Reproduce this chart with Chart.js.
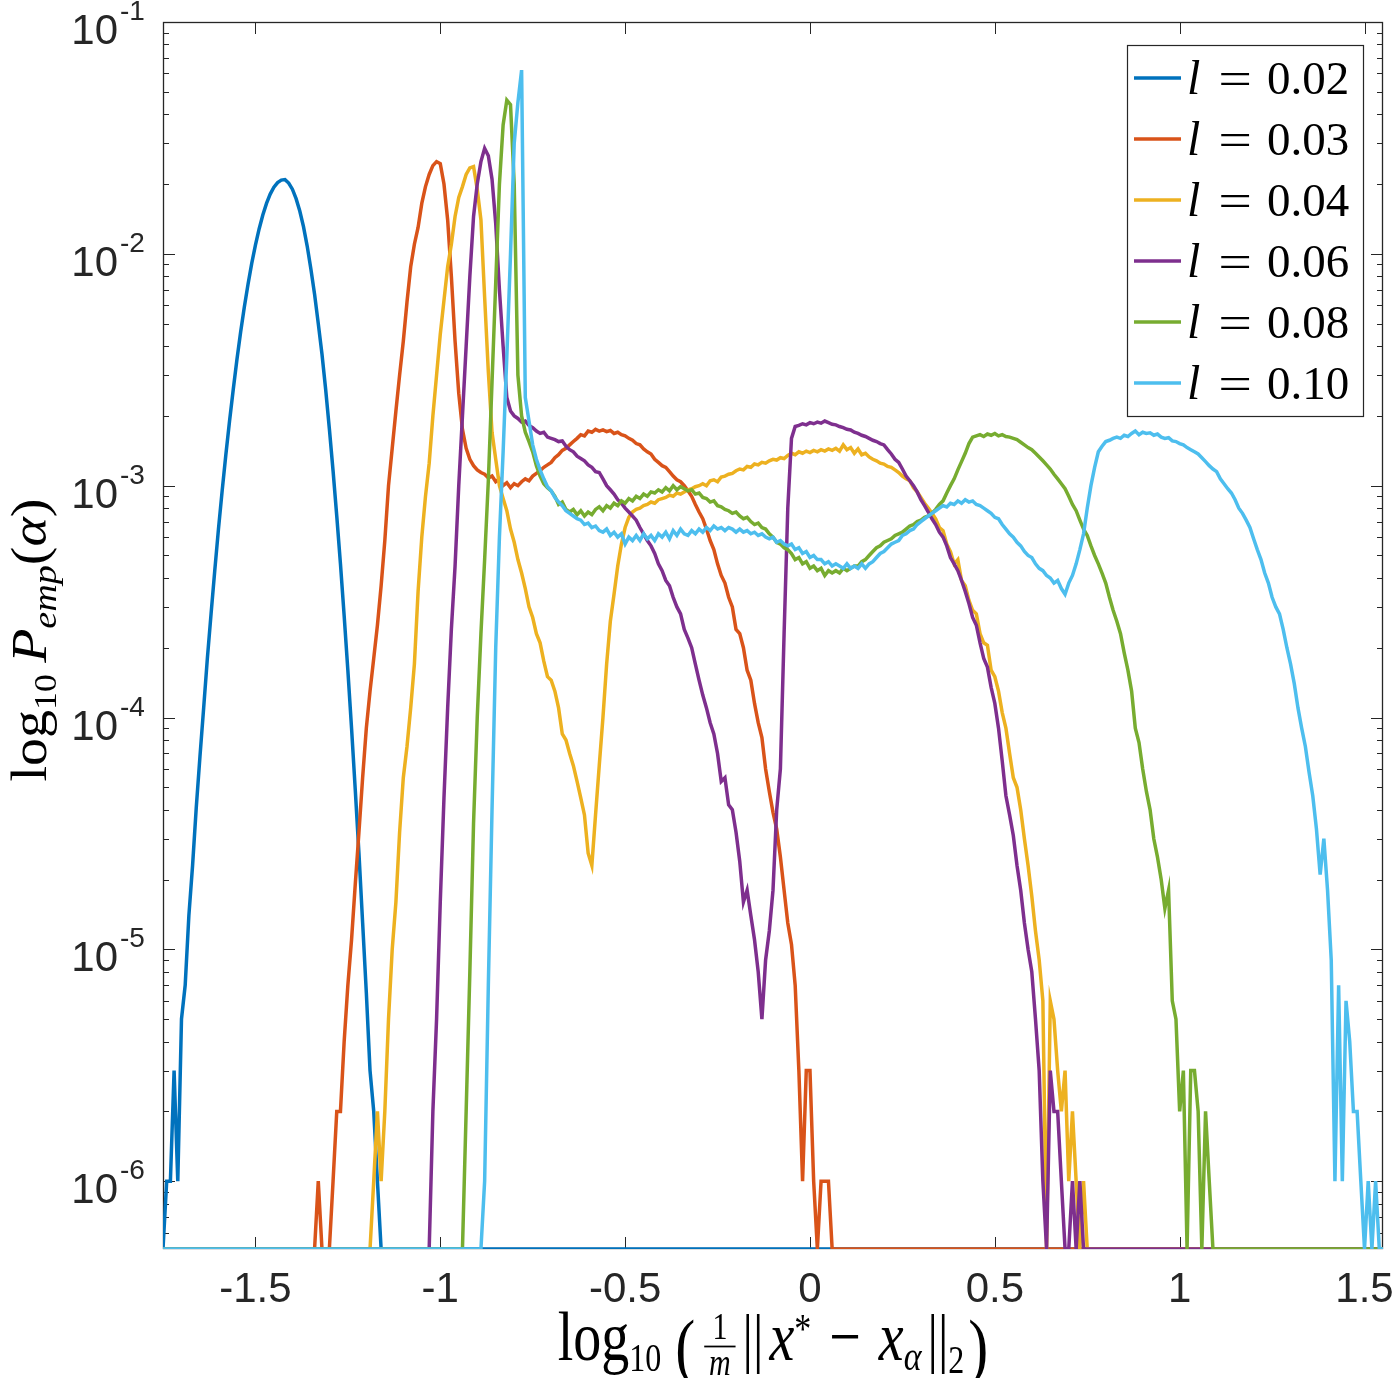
<!DOCTYPE html>
<html><head><meta charset="utf-8">
<script src="https://cdn.jsdelivr.net/npm/chart.js@4.4.1/dist/chart.umd.min.js"></script>
<style>html,body{margin:0;padding:0;background:#fff;}#wrap{width:1398px;height:1378px;}</style>
</head><body><div id="wrap"><canvas id="c" width="1398" height="1378"></canvas></div>
<script>
// ---- axis / bins ----
const BIN_START = -1.75, BIN_STEP = 0.01, BIN_COUNT = 331;
const xMin = -1.75, xMax = 1.55, yMin = 5.1e-7, yMax = 0.1;
const xTickValues = [-1.5, -1, -0.5, 0, 0.5, 1, 1.5];
const xTickLabels = ['-1.5', '-1', '-0.5', '0', '0.5', '1', '1.5'];
const yTickExponents = [-1, -2, -3, -4, -5, -6];
const seriesNames = ['0.02', '0.03', '0.04', '0.06', '0.08', '0.10'];
const seriesColors = ['#0072BD', '#D95319', '#EDB120', '#7E2F8E', '#77AC30', '#4DBEEE'];

// ---- series: first bin centre + empirical probabilities per bin (0 = empty bin) ----
const start002 = -1.75;
const p002 = [
 0, 1e-6, 1e-6, 3e-6, 1e-6, 5e-6, 7e-6, 1.4e-5, 2.3e-5, 4.1e-5,
 6.8e-5, 1.1e-4, 1.8e-4, 2.8e-4, 4.3e-4, 6.5e-4, 9.5e-4, 1.36e-3, 1.9e-3, 2.6e-3,
 3.5e-3, 4.6e-3, 5.9e-3, 7.4e-3, 9.1e-3, 1.09e-2, 1.28e-2, 1.47e-2, 1.65e-2, 1.81e-2,
 1.94e-2, 2.03e-2, 2.08e-2, 2.09e-2, 2.02e-2, 1.9e-2, 1.73e-2, 1.53e-2, 1.31e-2, 1.08e-2,
 8.6e-3, 6.7e-3, 5.0e-3, 3.7e-3, 2.6e-3, 1.76e-3, 1.16e-3, 7.4e-4, 4.6e-4, 2.75e-4,
 1.6e-4, 9e-5, 4.9e-5, 2.6e-5, 1.3e-5, 6.5e-6, 3e-6, 2e-6, 1e-6, 0
];
const start003 = -1.34;
const p003 = [
 0, 1e-6, 0, 0, 0, 1e-6, 2e-6, 2e-6, 4e-6, 7e-6,
 1.1e-5, 1.9e-5, 3.2e-5, 5.5e-5, 9e-5, 1.3e-4, 1.8e-4, 2.5e-4, 3.7e-4, 5.8e-4,
 1.0e-3, 1.45e-3, 2.1e-3, 3.0e-3, 4.2e-3, 6.2e-3, 8.8e-3, 1.1e-2, 1.3e-2, 1.65e-2,
 1.95e-2, 2.2e-2, 2.4e-2, 2.5e-2, 2.45e-2, 2.0e-2, 1.4e-2, 8.0e-3, 4.2e-3, 2.5e-3,
 1.75e-3, 1.45e-3, 1.3e-3, 1.22e-3, 1.17e-3, 1.14e-3, 1.12e-3, 1.08e-3, 1.1e-3, 1.04e-3,
 1.07e-3, 1.0e-3, 1.03e-3, 9.8e-4, 1.02e-3, 1.0e-3, 1.04e-3, 1.07e-3, 1.05e-3, 1.1e-3,
 1.13e-3, 1.16e-3, 1.2e-3, 1.23e-3, 1.26e-3, 1.32e-3, 1.36e-3, 1.42e-3, 1.45e-3, 1.5e-3,
 1.55e-3, 1.6e-3, 1.66e-3, 1.64e-3, 1.72e-3, 1.7e-3, 1.75e-3, 1.72e-3, 1.74e-3, 1.71e-3,
 1.73e-3, 1.68e-3, 1.7e-3, 1.66e-3, 1.64e-3, 1.6e-3, 1.57e-3, 1.52e-3, 1.5e-3, 1.44e-3,
 1.4e-3, 1.37e-3, 1.3e-3, 1.26e-3, 1.22e-3, 1.2e-3, 1.15e-3, 1.1e-3, 1.06e-3, 1.04e-3,
 1.0e-3, 9.5e-4, 9e-4, 8.3e-4, 7.7e-4, 7.2e-4, 6.5e-4, 5.8e-4, 5.3e-4, 4.6e-4,
 4.1e-4, 3.8e-4, 3.3e-4, 3.0e-4, 2.4e-4, 2.3e-4, 2.0e-4, 1.6e-4, 1.45e-4, 1.15e-4,
 9.5e-5, 8.2e-5, 6e-5, 4.8e-5, 3.9e-5, 3.3e-5, 2.5e-5, 1.8e-5, 1.3e-5, 1.05e-5,
 7e-6, 3e-6, 1e-6, 3e-6, 3e-6, 1e-6, 0, 1e-6, 1e-6, 1e-6,
 0
];
const start004 = -1.19;
const p004 = [
 0, 1e-6, 2e-6, 1e-6, 2e-6, 5e-6, 1e-5, 1.6e-5, 3.2e-5, 5.5e-5,
 7.5e-5, 1.1e-4, 1.7e-4, 3.5e-4, 6e-4, 9e-4, 1.25e-3, 2e-3, 3e-3, 4.5e-3,
 6.3e-3, 8.8e-3, 1.1e-2, 1.45e-2, 1.75e-2, 1.95e-2, 2.2e-2, 2.35e-2, 2.38e-2, 1.9e-2,
 1.4e-2, 6.5e-3, 3.1e-3, 1.7e-3, 1.3e-3, 1.0e-3, 8.8e-4, 7.8e-4, 6.5e-4, 5.7e-4,
 4.8e-4, 4.2e-4, 3.6e-4, 3.0e-4, 2.7e-4, 2.3e-4, 2.1e-4, 1.75e-4, 1.5e-4, 1.45e-4,
 1.3e-4, 1.1e-4, 8.5e-5, 8e-5, 7e-5, 6.2e-5, 5.3e-5, 4.5e-5, 3.8e-5, 2.6e-5,
 2.3e-5, 3.8e-5, 6.2e-5, 1.0e-4, 1.7e-4, 2.6e-4, 3.4e-4, 4.5e-4, 5.6e-4, 6.6e-4,
 7.3e-4, 7.7e-4, 7.9e-4, 8e-4, 8.2e-4, 8.3e-4, 8.5e-4, 8.4e-4, 8.7e-4, 8.8e-4,
 8.9e-4, 9.1e-4, 9.0e-4, 9.3e-4, 9.2e-4, 9.4e-4, 9.6e-4, 9.7e-4, 9.9e-4, 1.0e-3,
 1.02e-3, 1.0e-3, 1.05e-3, 1.06e-3, 1.04e-3, 1.09e-3, 1.1e-3, 1.12e-3, 1.13e-3, 1.16e-3,
 1.18e-3, 1.17e-3, 1.21e-3, 1.2e-3, 1.24e-3, 1.23e-3, 1.26e-3, 1.25e-3, 1.28e-3, 1.3e-3,
 1.29e-3, 1.32e-3, 1.31e-3, 1.35e-3, 1.38e-3, 1.36e-3, 1.4e-3, 1.38e-3, 1.41e-3, 1.39e-3,
 1.42e-3, 1.4e-3, 1.43e-3, 1.41e-3, 1.44e-3, 1.42e-3, 1.45e-3, 1.41e-3, 1.5e-3, 1.43e-3,
 1.46e-3, 1.38e-3, 1.44e-3, 1.36e-3, 1.38e-3, 1.33e-3, 1.3e-3, 1.28e-3, 1.25e-3, 1.24e-3,
 1.21e-3, 1.2e-3, 1.17e-3, 1.14e-3, 1.1e-3, 1.07e-3, 1.05e-3, 9.8e-4, 9.4e-4, 8.9e-4,
 8.4e-4, 8e-4, 7.6e-4, 7.2e-4, 6.6e-4, 6.4e-4, 5.6e-4, 5.2e-4, 4.6e-4, 4.8e-4,
 3.9e-4, 3.7e-4, 3.2e-4, 2.9e-4, 2.8e-4, 2.3e-4, 2.1e-4, 2.05e-4, 1.6e-4, 1.5e-4,
 1.3e-4, 1.05e-4, 9e-5, 7e-5, 5.5e-5, 5e-5, 4e-5, 3e-5, 2.3e-5, 1.7e-5,
 1.2e-5, 9e-6, 6e-6, 0, 6e-6, 5e-6, 3e-6, 2e-6, 3e-6, 1e-6,
 2e-6, 1e-6, 0, 1e-6, 0
];
const start006 = -1.03;
const p006 = [
 0, 2e-6, 5e-6, 1.6e-5, 4.5e-5, 1.1e-4, 2.4e-4, 4.5e-4, 1e-3, 2e-3,
 4e-3, 8e-3, 1.45e-2, 2e-2, 2.5e-2, 2.85e-2, 2.65e-2, 2.1e-2, 1.35e-2, 7e-3,
 4.0e-3, 2.4e-3, 2.1e-3, 2.0e-3, 1.95e-3, 1.88e-3, 1.9e-3, 1.82e-3, 1.78e-3, 1.72e-3,
 1.68e-3, 1.7e-3, 1.62e-3, 1.6e-3, 1.58e-3, 1.55e-3, 1.56e-3, 1.48e-3, 1.43e-3, 1.4e-3,
 1.34e-3, 1.31e-3, 1.28e-3, 1.23e-3, 1.2e-3, 1.15e-3, 1.14e-3, 1.07e-3, 1.0e-3, 9.6e-4,
 9.2e-4, 8.7e-4, 8.4e-4, 8.0e-4, 7.7e-4, 7.4e-4, 7.1e-4, 6.6e-4, 6.2e-4, 5.8e-4,
 5.5e-4, 5.1e-4, 4.6e-4, 4.3e-4, 3.9e-4, 3.7e-4, 3.3e-4, 3.0e-4, 2.8e-4, 2.4e-4,
 2.2e-4, 2.0e-4, 1.7e-4, 1.45e-4, 1.25e-4, 1.1e-4, 9.5e-5, 8.5e-5, 7e-5, 5.3e-5,
 5.5e-5, 4.2e-5, 4e-5, 3.2e-5, 2.4e-5, 1.6e-5, 1.8e-5, 1.4e-5, 1.1e-5, 8e-6,
 5e-6, 9e-6, 1.2e-5, 1.8e-5, 4e-5, 6e-5, 2.3e-4, 8e-4, 1.6e-3, 1.8e-3,
 1.82e-3, 1.85e-3, 1.83e-3, 1.87e-3, 1.85e-3, 1.88e-3, 1.86e-3, 1.9e-3, 1.87e-3, 1.84e-3,
 1.83e-3, 1.8e-3, 1.78e-3, 1.75e-3, 1.74e-3, 1.7e-3, 1.68e-3, 1.65e-3, 1.63e-3, 1.6e-3,
 1.57e-3, 1.55e-3, 1.52e-3, 1.5e-3, 1.43e-3, 1.37e-3, 1.3e-3, 1.26e-3, 1.18e-3, 1.1e-3,
 1.05e-3, 1.0e-3, 9.4e-4, 8.7e-4, 8.2e-4, 7.7e-4, 7.2e-4, 6.8e-4, 6.3e-4, 6e-4,
 5.5e-4, 4.9e-4, 4.6e-4, 4.3e-4, 3.9e-4, 3.5e-4, 3.1e-4, 2.7e-4, 2.5e-4, 2.1e-4,
 1.8e-4, 1.65e-4, 1.35e-4, 1.15e-4, 9e-5, 6.5e-5, 4.6e-5, 3.8e-5, 3.1e-5, 2.3e-5,
 1.8e-5, 1.3e-5, 1.0e-5, 8e-6, 5e-6, 3e-6, 1e-6, 0, 3e-6, 2e-6,
 2e-6, 1e-6, 0, 0, 1e-6, 0, 1e-6, 0
];
const start008 = -0.94;
const p008 = [
 0, 2e-6, 8e-6, 3.5e-5, 1e-4, 2.3e-4, 4.8e-4, 1.05e-3, 2.8e-3, 7.5e-3,
 2e-2, 3.6e-2, 4.6e-2, 4.4e-2, 2e-2, 3e-3, 2e-3, 1.7e-3, 1.55e-3, 1.4e-3,
 1.22e-3, 1.1e-3, 1.02e-3, 9.8e-4, 9.5e-4, 9e-4, 8.3e-4, 8.5e-4, 7.9e-4, 7.7e-4,
 7.9e-4, 7.5e-4, 7.8e-4, 7.4e-4, 7.7e-4, 7.5e-4, 7.9e-4, 8.1e-4, 7.8e-4, 8.2e-4,
 8.0e-4, 8.4e-4, 8.2e-4, 8.6e-4, 8.4e-4, 8.8e-4, 8.6e-4, 9e-4, 8.8e-4, 9.2e-4,
 9e-4, 9.4e-4, 9.3e-4, 9.6e-4, 9.4e-4, 9.8e-4, 9.5e-4, 1.0e-3, 9.6e-4, 9.9e-4,
 9.7e-4, 9.5e-4, 9.6e-4, 9.2e-4, 9.3e-4, 8.9e-4, 8.8e-4, 8.5e-4, 8.6e-4, 8.2e-4,
 8.1e-4, 7.9e-4, 7.8e-4, 7.6e-4, 7.7e-4, 7.4e-4, 7.2e-4, 7.3e-4, 7.0e-4, 6.8e-4,
 6.9e-4, 6.6e-4, 6.5e-4, 6.2e-4, 6.0e-4, 5.7e-4, 5.6e-4, 5.4e-4, 5.3e-4, 5.1e-4,
 4.8e-4, 4.9e-4, 4.6e-4, 4.7e-4, 4.4e-4, 4.5e-4, 4.3e-4, 4.4e-4, 4.1e-4, 4.3e-4,
 4.2e-4, 4.3e-4, 4.2e-4, 4.4e-4, 4.3e-4, 4.4e-4, 4.5e-4, 4.5e-4, 4.7e-4, 4.8e-4,
 5.0e-4, 5.2e-4, 5.4e-4, 5.5e-4, 5.7e-4, 5.8e-4, 5.9e-4, 6.1e-4, 6.2e-4, 6.3e-4,
 6.5e-4, 6.7e-4, 6.8e-4, 7.0e-4, 7.1e-4, 7.3e-4, 7.4e-4, 7.6e-4, 7.9e-4, 8.3e-4,
 8.6e-4, 9.3e-4, 1.0e-3, 1.07e-3, 1.17e-3, 1.27e-3, 1.38e-3, 1.52e-3, 1.62e-3, 1.64e-3,
 1.66e-3, 1.63e-3, 1.67e-3, 1.65e-3, 1.68e-3, 1.64e-3, 1.66e-3, 1.63e-3, 1.62e-3, 1.6e-3,
 1.58e-3, 1.54e-3, 1.5e-3, 1.46e-3, 1.43e-3, 1.38e-3, 1.33e-3, 1.28e-3, 1.23e-3, 1.18e-3,
 1.12e-3, 1.07e-3, 1.02e-3, 9.7e-4, 9.0e-4, 8.3e-4, 7.8e-4, 7.1e-4, 6.5e-4, 6.1e-4,
 5.5e-4, 5e-4, 4.6e-4, 4.2e-4, 3.8e-4, 3.3e-4, 2.9e-4, 2.6e-4, 2.3e-4, 1.9e-4,
 1.6e-4, 1.3e-4, 9e-5, 7.8e-5, 6e-5, 4.8e-5, 4e-5, 3e-5, 2.5e-5, 2e-5,
 1.5e-5, 1.8e-5, 6e-6, 5e-6, 2e-6, 3e-6, 0, 3e-6, 3e-6, 2e-6,
 0, 2e-6, 1e-6, 0
];
const start010 = -0.89;
const p010 = [
 0, 1e-6, 7e-6, 4e-5, 2e-4, 6e-4, 1.4e-3, 3.6e-3, 1e-2, 3e-2,
 4.5e-2, 6.2e-2, 2.4e-3, 1.9e-3, 1.5e-3, 1.3e-3, 1.17e-3, 1.07e-3, 9.9e-4, 9.5e-4,
 8.9e-4, 8.5e-4, 8.2e-4, 7.8e-4, 7.6e-4, 7.4e-4, 7.2e-4, 7.1e-4, 6.8e-4, 6.9e-4,
 6.6e-4, 6.7e-4, 6.4e-4, 6.3e-4, 6.5e-4, 6.1e-4, 6.3e-4, 6.0e-4, 6.2e-4, 5.6e-4,
 6.0e-4, 5.8e-4, 6.1e-4, 5.8e-4, 6.2e-4, 5.9e-4, 6.1e-4, 5.8e-4, 6.2e-4, 6.0e-4,
 6.3e-4, 5.9e-4, 6.4e-4, 6.1e-4, 6.5e-4, 6.2e-4, 6.1e-4, 6.4e-4, 6.2e-4, 6.5e-4,
 6.3e-4, 6.6e-4, 6.4e-4, 6.7e-4, 6.5e-4, 6.6e-4, 6.4e-4, 6.6e-4, 6.5e-4, 6.3e-4,
 6.5e-4, 6.3e-4, 6.4e-4, 6.2e-4, 6.3e-4, 6.1e-4, 6.2e-4, 6.0e-4, 5.9e-4, 6.0e-4,
 5.7e-4, 5.8e-4, 5.6e-4, 5.5e-4, 5.6e-4, 5.3e-4, 5.4e-4, 5.1e-4, 5.2e-4, 4.9e-4,
 5.0e-4, 4.8e-4, 4.8e-4, 4.6e-4, 4.7e-4, 4.5e-4, 4.6e-4, 4.5e-4, 4.4e-4, 4.6e-4,
 4.4e-4, 4.5e-4, 4.4e-4, 4.6e-4, 4.4e-4, 4.6e-4, 4.7e-4, 4.9e-4, 5.1e-4, 5.2e-4,
 5.4e-4, 5.6e-4, 5.7e-4, 5.8e-4, 6.1e-4, 6.2e-4, 6.4e-4, 6.5e-4, 6.8e-4, 7.0e-4,
 7.2e-4, 7.4e-4, 7.6e-4, 7.8e-4, 8.0e-4, 8.2e-4, 8.1e-4, 8.4e-4, 8.3e-4, 8.6e-4,
 8.4e-4, 8.7e-4, 8.5e-4, 8.6e-4, 8.3e-4, 8.2e-4, 8.0e-4, 7.8e-4, 7.6e-4, 7.3e-4,
 7.2e-4, 6.8e-4, 6.5e-4, 6.2e-4, 6.0e-4, 5.7e-4, 5.5e-4, 5.2e-4, 5.0e-4, 4.9e-4,
 4.6e-4, 4.4e-4, 4.3e-4, 4.1e-4, 4.0e-4, 3.8e-4, 3.9e-4, 3.6e-4, 3.4e-4, 3.8e-4,
 4.1e-4, 4.6e-4, 5.3e-4, 6.2e-4, 8e-4, 1.0e-3, 1.2e-3, 1.4e-3, 1.48e-3, 1.55e-3,
 1.57e-3, 1.6e-3, 1.62e-3, 1.6e-3, 1.65e-3, 1.63e-3, 1.68e-3, 1.72e-3, 1.66e-3, 1.7e-3,
 1.68e-3, 1.69e-3, 1.65e-3, 1.67e-3, 1.62e-3, 1.6e-3, 1.61e-3, 1.56e-3, 1.55e-3, 1.52e-3,
 1.5e-3, 1.46e-3, 1.43e-3, 1.4e-3, 1.37e-3, 1.32e-3, 1.27e-3, 1.22e-3, 1.18e-3, 1.15e-3,
 1.07e-3, 1.02e-3, 9.7e-4, 9.3e-4, 8.7e-4, 8.0e-4, 7.6e-4, 7.1e-4, 6.6e-4, 5.9e-4,
 5.3e-4, 4.8e-4, 4.2e-4, 3.8e-4, 3.3e-4, 3.0e-4, 2.8e-4, 2.4e-4, 2.0e-4, 1.7e-4,
 1.4e-4, 1.1e-4, 9e-5, 7.5e-5, 5.8e-5, 4.6e-5, 3.3e-5, 2.1e-5, 3e-5, 1.8e-5,
 9e-6, 1e-6, 7e-6, 1e-6, 6e-6, 4e-6, 2e-6, 2e-6, 1e-6, 0,
 1e-6, 0, 1e-6, 0, 0
];

const seriesStarts = [start002, start003, start004, start006, start008, start010];
const seriesValues = [p002, p003, p004, p006, p008, p010];

// ---- build full-range point lists (empty bins sit on the lower axis limit) ----
function buildPoints(start, vals) {
  const pts = [];
  for (let i = 0; i < BIN_COUNT; i++) {
    const x = +(BIN_START + i * BIN_STEP).toFixed(2);
    const j = Math.round((x - start) / BIN_STEP);
    const v = (j >= 0 && j < vals.length) ? vals[j] : 0;
    pts.push({ x: x, y: v > 0 ? v : yMin });
  }
  return pts;
}

const datasets = seriesNames.map((n, k) => ({
  label: 'l = ' + n,
  data: buildPoints(seriesStarts[k], seriesValues[k]),
  borderColor: seriesColors[k],
  backgroundColor: seriesColors[k],
  borderWidth: 3.5,
  pointRadius: 0,
  tension: 0,
  fill: false,
  order: seriesNames.length - k
}));

const SANS = '"Liberation Sans", Arial, Helvetica, sans-serif';
const SERIF = '"Liberation Serif", "Times New Roman", serif';
const AX = '#262626';

// ---- frame & ticks (inside, MATLAB style) ----
const framePlugin = {
  id: 'frame',
  beforeDatasetsDraw(chart) {
    const { ctx, chartArea: a, scales: { x, y } } = chart;
    ctx.save();
    ctx.strokeStyle = AX; ctx.lineWidth = 1;
    ctx.beginPath();
    xTickValues.forEach(v => {
      const px = Math.round(x.getPixelForValue(v)) + 0.5;
      ctx.moveTo(px, a.bottom); ctx.lineTo(px, a.bottom - 12);
      ctx.moveTo(px, a.top); ctx.lineTo(px, a.top + 12);
    });
    for (let e = -7; e <= -1; e++) {
      for (let m = 1; m <= 9; m++) {
        const v = m * Math.pow(10, e);
        if (v < yMin || v > yMax * 1.0001) continue;
        const py = Math.round(y.getPixelForValue(v)) + 0.5;
        const len = m === 1 ? 12 : 6;
        ctx.moveTo(a.left, py); ctx.lineTo(a.left + len, py);
        ctx.moveTo(a.right, py); ctx.lineTo(a.right - len, py);
      }
    }
    ctx.stroke();
    ctx.lineWidth = 1.3;
    ctx.strokeRect(a.left + 0.5, a.top + 0.5, a.right - a.left - 1, a.bottom - a.top - 1);
    ctx.restore();
  }
};

function runsWidth(ctx, runs) {
  let w = 0;
  runs.forEach(r => {
    if (r.gap) { w += r.gap; return; }
    ctx.font = r.font;
    if (r.frac) { w += Math.max(ctx.measureText(r.num).width, ctx.measureText(r.den).width) + 10; }
    else { w += ctx.measureText(r.t).width; }
  });
  return w;
}
function drawRuns(ctx, runs, x0, y0) {
  let cx = x0;
  runs.forEach(r => {
    if (r.gap) { cx += r.gap; return; }
    ctx.font = r.font;
    if (r.frac) {
      const wn = ctx.measureText(r.num).width, wd = ctx.measureText(r.den).width;
      const w = Math.max(wn, wd) + 10;
      ctx.textAlign = 'center';
      ctx.fillText(r.num, cx + w / 2, y0 - 17);
      ctx.font = r.denFont;
      ctx.fillText(r.den, cx + w / 2, y0 + 12);
      ctx.fillRect(cx + 1, y0 - 11.5, w - 2, 1.4);
      ctx.textAlign = 'left';
      cx += w;
      return;
    }
    ctx.fillText(r.t, cx, y0 + (r.dy || 0));
    cx += ctx.measureText(r.t).width;
  });
}

const labelsPlugin = {
  id: 'labels',
  afterDraw(chart) {
    const { ctx, chartArea: a, scales: { y } } = chart;
    ctx.save();
    // y tick labels 10^k
    ctx.fillStyle = AX;
    yTickExponents.forEach(e => {
      const py = y.getPixelForValue(Math.pow(10, e));
      ctx.font = '42px ' + SANS; ctx.textAlign = 'right'; ctx.textBaseline = 'alphabetic';
      ctx.fillText('10', 118, py + 22);
      ctx.font = '28px ' + SANS; ctx.textAlign = 'left';
      ctx.fillText('-' + (-e), 120, py - 2);
    });
    // x axis title
    ctx.fillStyle = '#000'; ctx.textAlign = 'left'; ctx.textBaseline = 'alphabetic';
    const xr = [
      { t: 'log', font: '56px ' + SERIF },
      { t: '10', font: '32px ' + SERIF, dy: 9 },
      { gap: 14 },
      { t: '(', font: '60px ' + SERIF, dy: 9 },
      { gap: 8 },
      { frac: true, num: '1', den: 'm', font: '30px ' + SERIF, denFont: 'italic 30px ' + SERIF },
      { gap: 6 },
      { t: '||', font: '52px ' + SERIF },
      { gap: 6 },
      { t: 'x', font: 'italic 56px ' + SERIF },
      { t: '*', font: '34px ' + SERIF, dy: -14 },
      { gap: 18 },
      { t: '\u2212', font: '56px ' + SERIF },
      { gap: 18 },
      { t: 'x', font: 'italic 56px ' + SERIF },
      { t: '\u03b1', font: 'italic 34px ' + SERIF, dy: 8 },
      { gap: 6 },
      { t: '||', font: '52px ' + SERIF },
      { t: '2', font: '32px ' + SERIF, dy: 10 },
      { gap: 4 },
      { t: ')', font: '60px ' + SERIF, dy: 9 }
    ];
    const xw = runsWidth(ctx, xr);
    ctx.save();
    ctx.translate((a.left + a.right) / 2 - xw / 2, 1360);
    ctx.scale(1, 1.25);
    drawRuns(ctx, xr, 0, 0);
    ctx.restore();
    // y axis title (rotated)
    const yr = [
      { t: 'log', font: '50px ' + SERIF },
      { t: '10', font: '32px ' + SERIF, dy: 10 },
      { gap: 10 },
      { t: 'P', font: 'italic 50px ' + SERIF },
      { t: 'emp', font: 'italic 34px ' + SERIF, dy: 10 },
      { t: '(', font: '50px ' + SERIF },
      { t: '\u03b1', font: 'italic 50px ' + SERIF },
      { t: ')', font: '50px ' + SERIF }
    ];
    const yw = runsWidth(ctx, yr);
    ctx.save();
    ctx.translate(46, 640);
    ctx.rotate(-Math.PI / 2);
    ctx.scale(1.12, 1);
    drawRuns(ctx, yr, -yw / 2, 0);
    ctx.restore();
    // legend
    const bx = 1127.5, by = 45.5, bw = 236, bh = 371;
    ctx.fillStyle = '#fff'; ctx.fillRect(bx, by, bw, bh);
    ctx.strokeStyle = AX; ctx.lineWidth = 1.2; ctx.strokeRect(bx, by, bw, bh);
    seriesNames.forEach((n, k) => {
      const ry = 78 + k * 61;
      ctx.strokeStyle = seriesColors[k]; ctx.lineWidth = 3.5;
      ctx.beginPath(); ctx.moveTo(1134, ry); ctx.lineTo(1181, ry); ctx.stroke();
      ctx.fillStyle = '#000';
      ctx.font = 'italic 48px ' + SERIF; ctx.textAlign = 'left';
      ctx.fillText('l', 1187, ry + 16);
      ctx.save();
      ctx.translate(1235, ry + 16); ctx.scale(1.3, 1);
      ctx.font = '46px ' + SERIF; ctx.textAlign = 'center';
      ctx.fillText('=', 0, 0);
      ctx.restore();
      ctx.font = '47px ' + SERIF; ctx.textAlign = 'left';
      ctx.fillText(n, 1267, ry + 16);
    });
    ctx.restore();
  }
};

new Chart(document.getElementById('c'), {
  type: 'line',
  data: { datasets: datasets },
  options: {
    responsive: false, animation: false, devicePixelRatio: 1,
    normalized: true, parsing: false,
    layout: { padding: { left: 0, right: 15, top: 22, bottom: 0 } },
    plugins: { legend: { display: false }, tooltip: { enabled: false } },
    scales: {
      x: {
        type: 'linear', min: xMin, max: xMax,
        afterBuildTicks: s => { s.ticks = xTickValues.map(v => ({ value: v })); },
        afterFit: s => { s.height = 129; s.paddingLeft = 0; s.paddingRight = 0; },
        ticks: {
          callback: (v, i) => xTickLabels[i], autoSkip: false, maxRotation: 0, minRotation: 0,
          font: { family: SANS, size: 42 }, color: AX, padding: 16
        },
        grid: { display: false, drawTicks: false }, border: { display: false }
      },
      y: {
        type: 'logarithmic', min: yMin, max: yMax,
        afterBuildTicks: s => { s.ticks = yTickExponents.map(e => ({ value: Math.pow(10, e) })); },
        afterFit: s => { s.width = 163; s.paddingTop = 0; s.paddingBottom = 0; },
        ticks: { display: false },
        grid: { display: false, drawTicks: false }, border: { display: false }
      }
    }
  },
  plugins: [framePlugin, labelsPlugin]
});
</script>
</body></html>
